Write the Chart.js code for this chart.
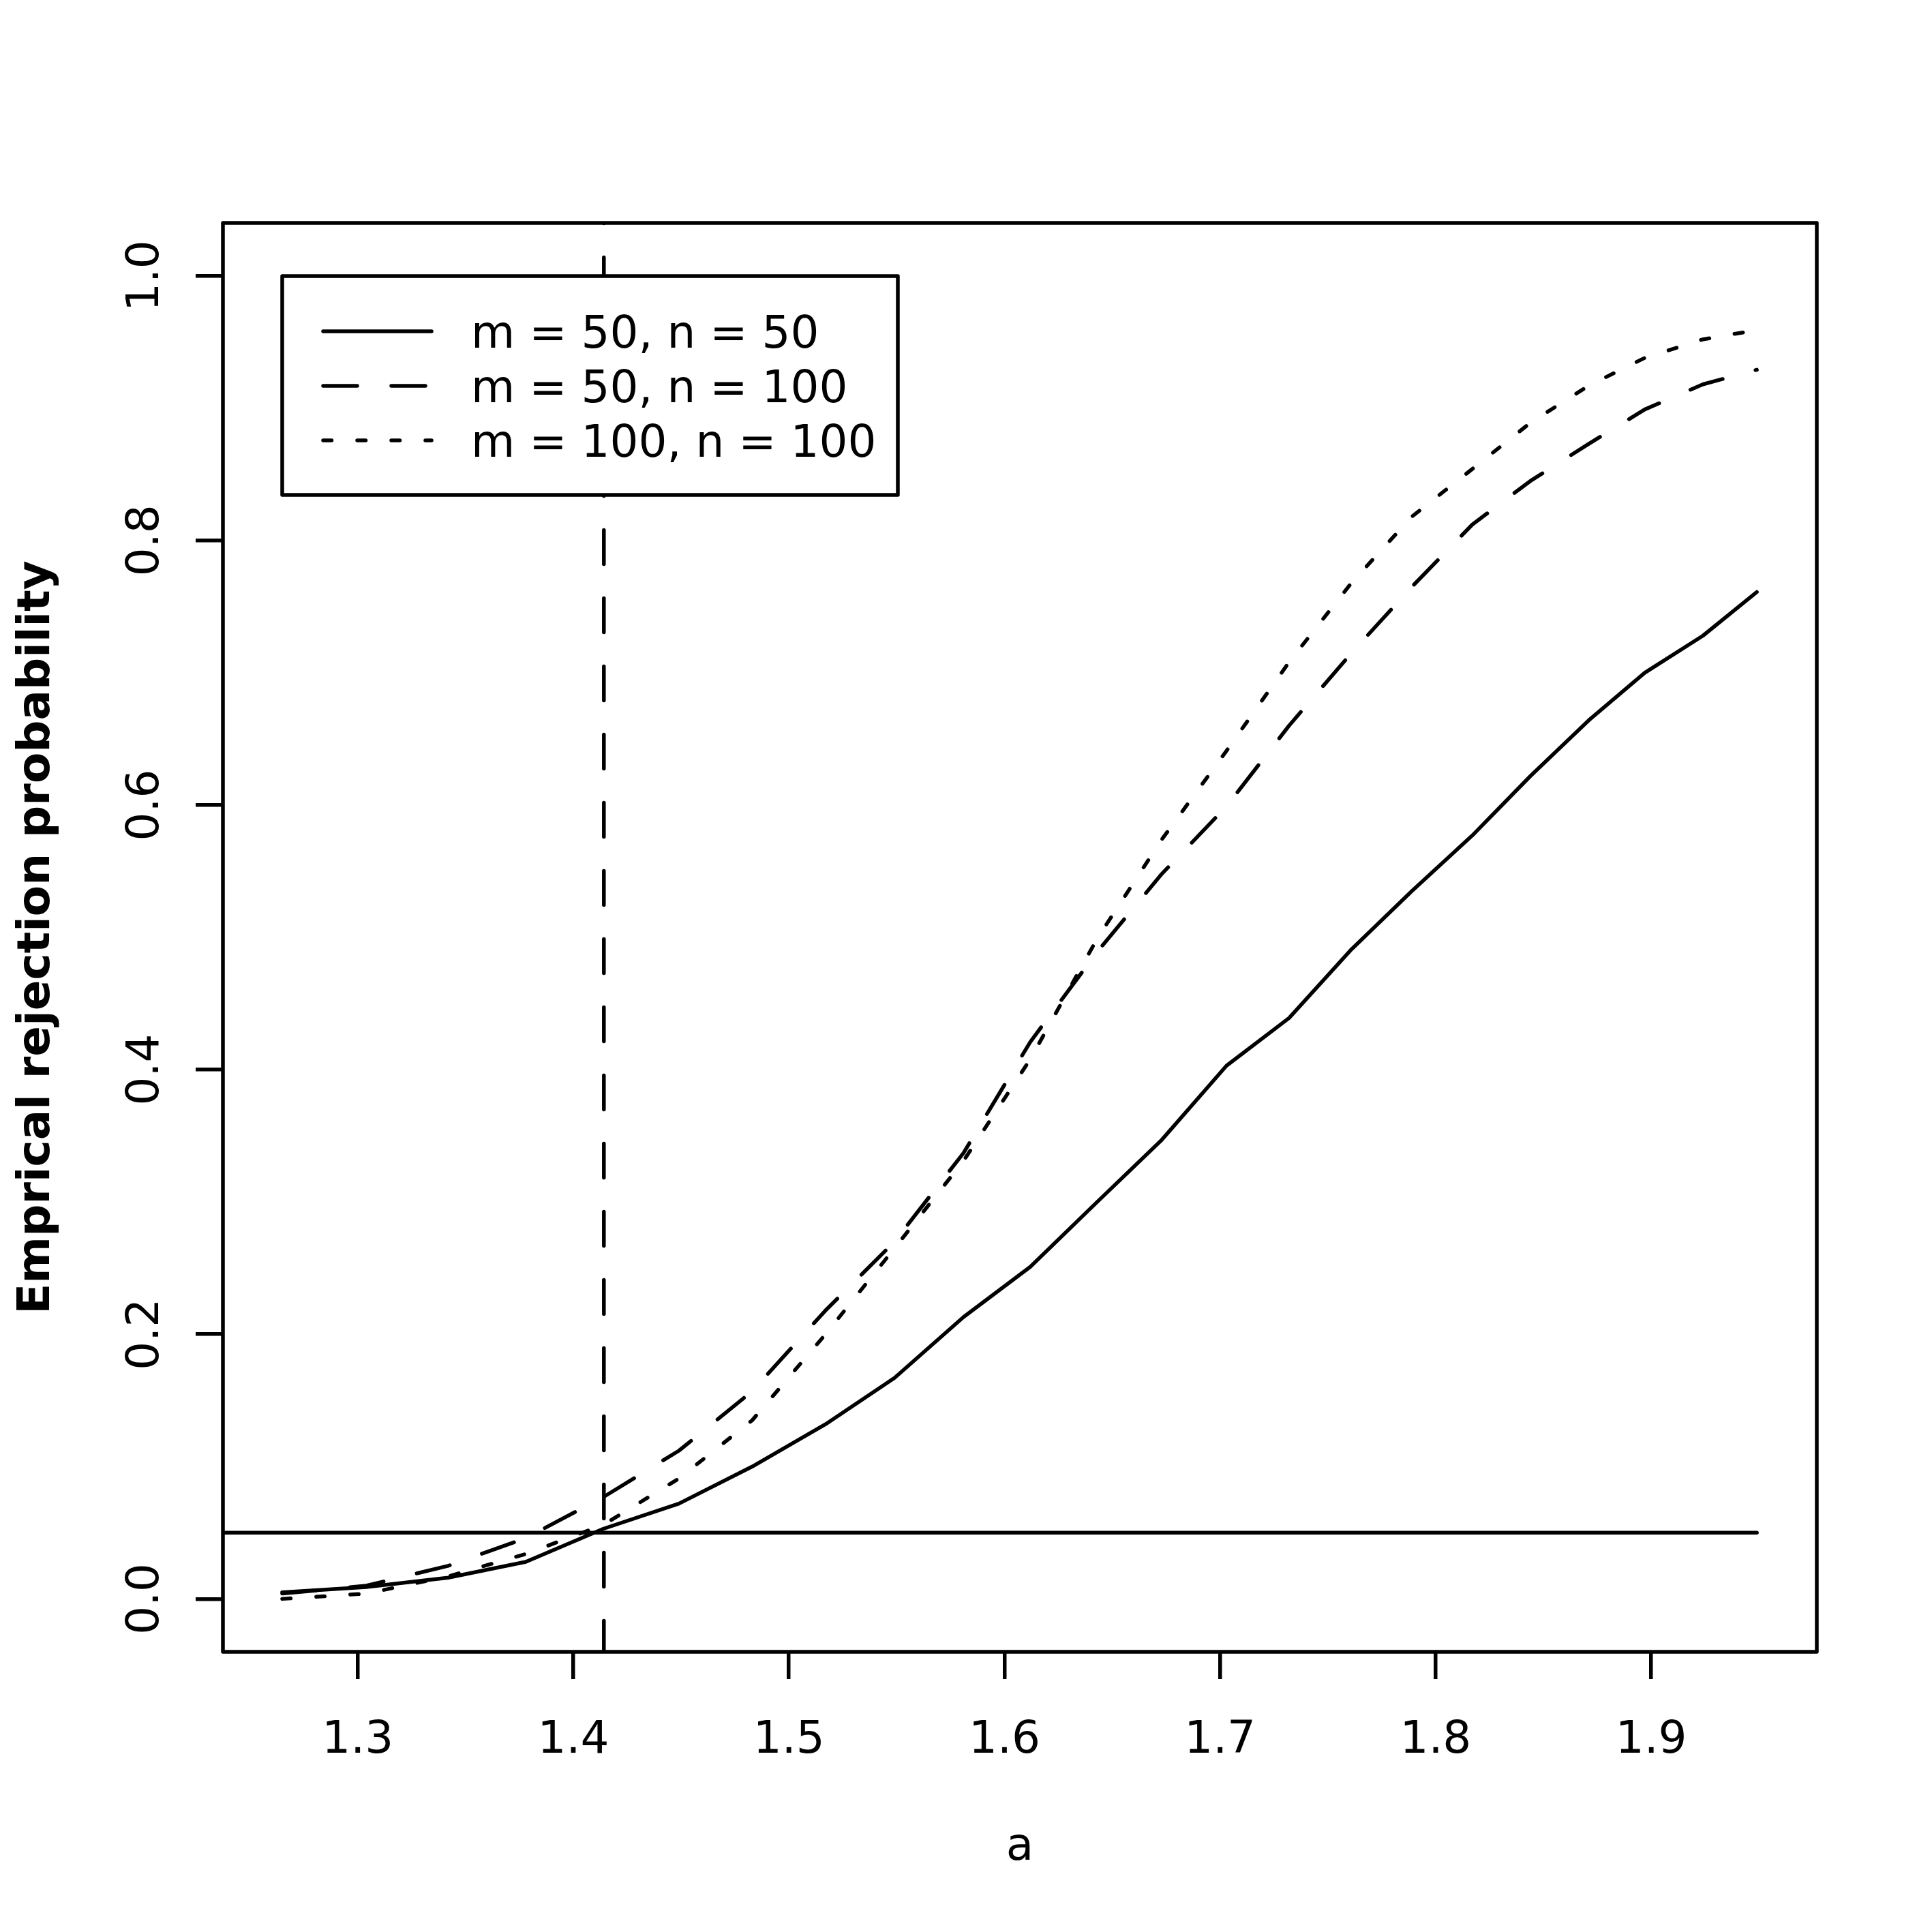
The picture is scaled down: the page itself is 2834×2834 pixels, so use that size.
<!DOCTYPE html>
<html>
<head>
<meta charset="utf-8">
<title>Empirical rejection probability</title>
<script src="https://cdn.jsdelivr.net/npm/chart.js@4.4.0/dist/chart.umd.min.js"></script>
<style>
  html, body { margin: 0; padding: 0; background: #fff; }
  canvas { display: block; }
</style>
</head>
<body>
<canvas id="rejection-chart" width="2834" height="2834"></canvas>
<script>
"use strict";

// values of a (x axis)
var aValues = [1.265, 1.304, 1.342, 1.378, 1.414, 1.449, 1.483, 1.517, 1.549, 1.581, 1.612, 1.643,
               1.673, 1.703, 1.732, 1.761, 1.789, 1.817, 1.844, 1.871, 1.897, 1.924, 1.949];

// empirical rejection probability per sample size
var rejM50N50 = [0.005, 0.009, 0.016, 0.028, 0.053, 0.072, 0.100, 0.132, 0.167, 0.213, 0.251, 0.300,
                 0.347, 0.403, 0.439, 0.491, 0.535, 0.577, 0.622, 0.664, 0.700, 0.728, 0.761];
var rejM50N100 = [0.004, 0.010, 0.025, 0.046, 0.077, 0.112, 0.157, 0.218, 0.270, 0.337, 0.421, 0.489,
                  0.548, 0.599, 0.660, 0.715, 0.765, 0.812, 0.845, 0.873, 0.899, 0.918, 0.929];
var rejM100N100 = [0.000, 0.004, 0.017, 0.034, 0.056, 0.091, 0.135, 0.200, 0.265, 0.331, 0.408, 0.499,
                   0.574, 0.641, 0.708, 0.768, 0.818, 0.854, 0.889, 0.917, 0.938, 0.952, 0.959];

var seriesLabels = ["m = 50, n = 50", "m = 50, n = 100", "m = 100, n = 100"];

// reference lines: nominal level and a = sqrt(2)
var alphaLevel = 0.05;
var aNull = 1.4142;

// axes
var xTicks = [1.3, 1.4, 1.5, 1.6, 1.7, 1.8, 1.9];
var xTickLabels = ["1.3", "1.4", "1.5", "1.6", "1.7", "1.8", "1.9"];
var yTicks = [0, 0.2, 0.4, 0.6, 0.8, 1.0];
var yTickLabels = ["0.0", "0.2", "0.4", "0.6", "0.8", "1.0"];
var xMin = 1.2375, xMax = 1.9768;
var yMin = -0.04, yMax = 1.04;
var xTitle = "a";
var yTitle = "Emprical rejection probability";

var FONT = "66px 'DejaVu Sans'";
var FONT_BOLD = "bold 66px 'DejaVu Sans'";
var LW = 5.5;
var DASHED = [50, 50];
var DOTTED = [12.5, 37.5];

function toPoints(xs, ys) {
    return xs.map(function (x, i) { return { x: x, y: ys[i] }; });
}

function lineSet(label, data, dash, extra) {
    var ds = {
        label: label,
        data: data,
        borderColor: "#000",
        borderWidth: LW,
        borderDash: dash,
        borderCapStyle: "round",
        borderJoinStyle: "round",
        pointRadius: 0,
        tension: 0,
        fill: false
    };
    for (var k in extra) { ds[k] = extra[k]; }
    return ds;
}

var frameAndText = {
    id: "frameAndText",
    afterDraw: function (chart) {
        var ctx = chart.ctx;
        var area = chart.chartArea;
        var xs = chart.scales.x, ys = chart.scales.y;
        ctx.save();
        ctx.strokeStyle = "#000";
        ctx.fillStyle = "#000";
        ctx.lineWidth = LW;
        ctx.lineJoin = "round";
        ctx.strokeRect(area.left, area.top, area.right - area.left, area.bottom - area.top);

        // x tick labels
        ctx.font = FONT;
        ctx.textAlign = "center";
        ctx.textBaseline = "alphabetic";
        xTicks.forEach(function (v, i) {
            ctx.fillText(xTickLabels[i], xs.getPixelForValue(v), 2571);
        });
        ctx.fillText(xTitle, (area.left + area.right) / 2, 2728);

        // y tick labels, parallel to the axis
        yTicks.forEach(function (v, i) {
            ctx.save();
            ctx.translate(232, ys.getPixelForValue(v));
            ctx.rotate(-Math.PI / 2);
            ctx.fillText(yTickLabels[i], 0, 0);
            ctx.restore();
        });
        ctx.save();
        ctx.font = FONT_BOLD;
        ctx.translate(72, (area.top + area.bottom) / 2);
        ctx.rotate(-Math.PI / 2);
        ctx.fillText(yTitle, 0, 0);
        ctx.restore();

        // legend box
        var bx = 414, by = 405, bw = 903, bh = 321;
        ctx.fillStyle = "#fff";
        ctx.fillRect(bx, by, bw, bh);
        ctx.strokeRect(bx, by, bw, bh);
        var dashes = [[], DASHED, DOTTED];
        ctx.lineCap = "round";
        ctx.fillStyle = "#000";
        ctx.textAlign = "left";
        ctx.font = FONT;
        for (var i = 0; i < 3; i++) {
            var ly = 486 + i * 80;
            ctx.setLineDash(dashes[i]);
            ctx.beginPath();
            ctx.moveTo(474, ly);
            ctx.lineTo(633, ly);
            ctx.stroke();
            ctx.fillText(seriesLabels[i], 691, ly + 24);
        }
        ctx.restore();
    }
};

var ctxRej = document.getElementById("rejection-chart").getContext("2d");
new Chart(ctxRej, {
    type: "line",
    data: {
        datasets: [
            lineSet(seriesLabels[0], toPoints(aValues, rejM50N50), []),
            lineSet(seriesLabels[1], toPoints(aValues, rejM50N100), DASHED),
            lineSet(seriesLabels[2], toPoints(aValues, rejM100N100), DOTTED),
            lineSet("alpha", [{ x: xMin - 0.1, y: alphaLevel }, { x: aValues[aValues.length - 1], y: alphaLevel }], [], { clip: 0 }),
            lineSet("sqrt2", [{ x: aNull, y: yMax }, { x: aNull, y: yMin }], DASHED, { clip: 0, borderDashOffset: 49.5 })
        ]
    },
    options: {
        responsive: false,
        devicePixelRatio: 1,
        animation: false,
        layout: { padding: { top: 327, right: 169, bottom: 0, left: 0 } },
        plugins: { legend: { display: false }, tooltip: { enabled: false } },
        scales: {
            x: {
                type: "linear",
                min: xMin,
                max: xMax,
                afterBuildTicks: function (scale) {
                    scale.ticks = xTicks.map(function (v) { return { value: v }; });
                },
                afterFit: function (scale) { scale.height = 411; },
                ticks: { display: false },
                grid: { drawOnChartArea: false, drawTicks: true, tickLength: 40, lineWidth: LW, color: "#000" },
                border: { display: false }
            },
            y: {
                type: "linear",
                min: yMin,
                max: yMax,
                afterBuildTicks: function (scale) {
                    scale.ticks = yTicks.map(function (v) { return { value: v }; });
                },
                afterFit: function (scale) { scale.width = 327; },
                ticks: { display: false },
                grid: { drawOnChartArea: false, drawTicks: true, tickLength: 40, lineWidth: LW, color: "#000" },
                border: { display: false }
            }
        }
    },
    plugins: [frameAndText]
});
</script>
</body>
</html>
